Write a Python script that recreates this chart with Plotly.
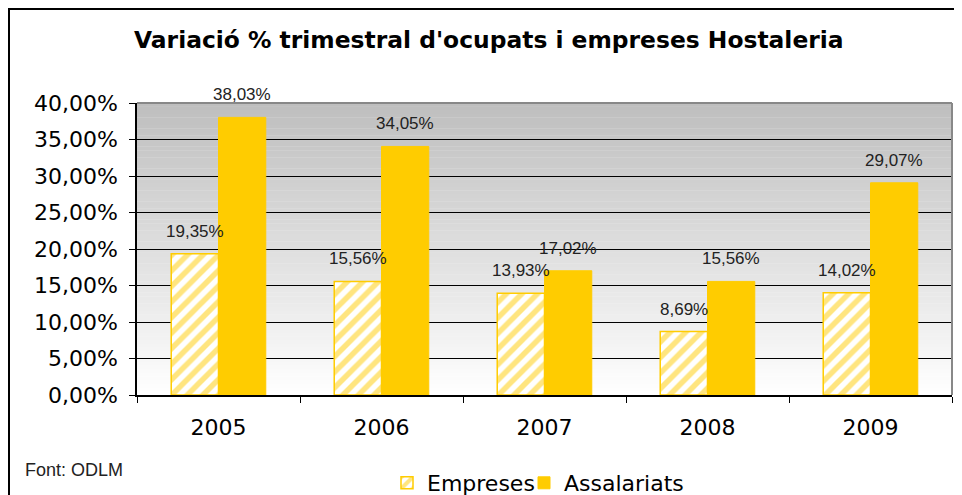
import plotly.graph_objects as go

years = ["2005", "2006", "2007", "2008", "2009"]
empreses = [19.35, 15.56, 13.93, 8.69, 14.02]
assalariats = [38.03, 34.05, 17.02, 15.56, 29.07]
y_ticks = [0, 5, 10, 15, 20, 25, 30, 35, 40]
y_ticktext = [f"{v:.2f}".replace(".", ",") + "%" for v in y_ticks]

YELLOW = "#FFCC00"
OFF = 8  # page body margin
W, H = 962 - OFF, 495 - OFF
ML, MR, MT, MB = 137 - OFF, 10, 103 - OFF, 100
PW = W - ML - MR
PH = H - MT - MB

def px_x(px):
    return (px - OFF - ML) / PW

def px_y(py):
    return (H - MB - (py - OFF)) / PH

fig = go.Figure()
fig.add_trace(go.Bar(
    name="Empreses", x=years, y=empreses, legend="legend",
    marker=dict(color="white", line=dict(color=YELLOW, width=1.5),
                pattern=dict(shape="/", fgcolor=YELLOW, bgcolor="white", size=11, solidity=0.5)),
))
fig.add_trace(go.Bar(
    name="Assalariats", x=years, y=assalariats, legend="legend2",
    marker=dict(color=YELLOW, line=dict(color=YELLOW, width=1)),
))

def fmt(v):
    return f"{v:.2f}".replace(".", ",") + "%"

annotations = []
off = 0.145
for i, (e, a) in enumerate(zip(empreses, assalariats)):
    for xv, yv in ((i - off, e), (i + off, a)):
        annotations.append(dict(x=xv, y=yv, xref="x", yref="y", text=fmt(yv),
                                showarrow=False, yanchor="bottom", yshift=11,
                                font=dict(family="Liberation Sans, Arial", size=17, color="#222")))

annotations.append(dict(x=px_x(489), y=px_y(40), xref="paper", yref="paper",
                        text="<b>Variació % trimestral d'ocupats i empreses Hostaleria</b>",
                        showarrow=False, xanchor="center", yanchor="middle",
                        font=dict(family="DejaVu Sans", size=23.4, color="black")))

annotations.append(dict(x=px_x(23), y=px_y(470), xref="paper", yref="paper",
                        text="Font: ODLM", showarrow=False, xanchor="left", yanchor="middle",
                        font=dict(family="Liberation Sans, Arial", size=18, color="#222")))

shapes = []
N = 80
for k in range(N):
    f0 = k / N
    f1 = (k + 1) / N
    c = int(round(190 + (255 - 190) * (1 - (f0 + f1) / 2)))
    shapes.append(dict(type="rect", xref="paper", yref="paper", x0=0, x1=1, y0=f0, y1=f1 + 0.001,
                       fillcolor=f"rgb({c},{c},{c})", line=dict(width=0), layer="below"))
# top and right gray border of plot area
shapes.append(dict(type="line", xref="paper", yref="paper", x0=0, x1=1, y0=1, y1=1,
                   line=dict(color="#888888", width=2)))
shapes.append(dict(type="line", xref="paper", yref="paper", x0=1, x1=1, y0=0, y1=1,
                   line=dict(color="#888888", width=2)))
# outer chart border
shapes.append(dict(type="rect", xref="paper", yref="paper", x0=px_x(9), x1=px_x(975),
                   y0=px_y(510), y1=px_y(9), line=dict(color="black", width=2)))

legend_common = dict(orientation="h", yanchor="middle", xanchor="left",
                     font=dict(family="DejaVu Sans", size=22, color="black"),
                     bgcolor="rgba(0,0,0,0)", itemwidth=30)

fig.update_layout(
    width=W, height=H,
    margin=dict(l=ML, r=MR, t=MT, b=MB, autoexpand=False),
    paper_bgcolor="white", plot_bgcolor="white",
    separators=",.",
    barmode="group", bargap=0.42, bargroupgap=0,
    showlegend=True,
    legend=dict(x=px_x(387), y=px_y(483), **legend_common),
    legend2=dict(x=px_x(524), y=px_y(483), **legend_common),
    annotations=annotations,
    shapes=shapes,
)
fig.update_xaxes(type="category", showline=True, linecolor="black", linewidth=1.5,
                 ticks="outside", tickson="boundaries", ticklen=6, tickcolor="black",
                 tickfont=dict(family="DejaVu Sans", size=22, color="black"),
                 ticklabelstandoff=12, showgrid=False)
fig.update_yaxes(range=[0, 40], tickvals=y_ticks, ticktext=y_ticktext,
                 showline=True, linecolor="black", linewidth=1.5,
                 ticks="outside", ticklen=6, tickcolor="black",
                 tickfont=dict(family="DejaVu Sans", size=22, color="black"),
                 ticklabelstandoff=7,
                 showgrid=True, gridcolor="black", gridwidth=1, zeroline=False)

fig.write_html("out.html")
